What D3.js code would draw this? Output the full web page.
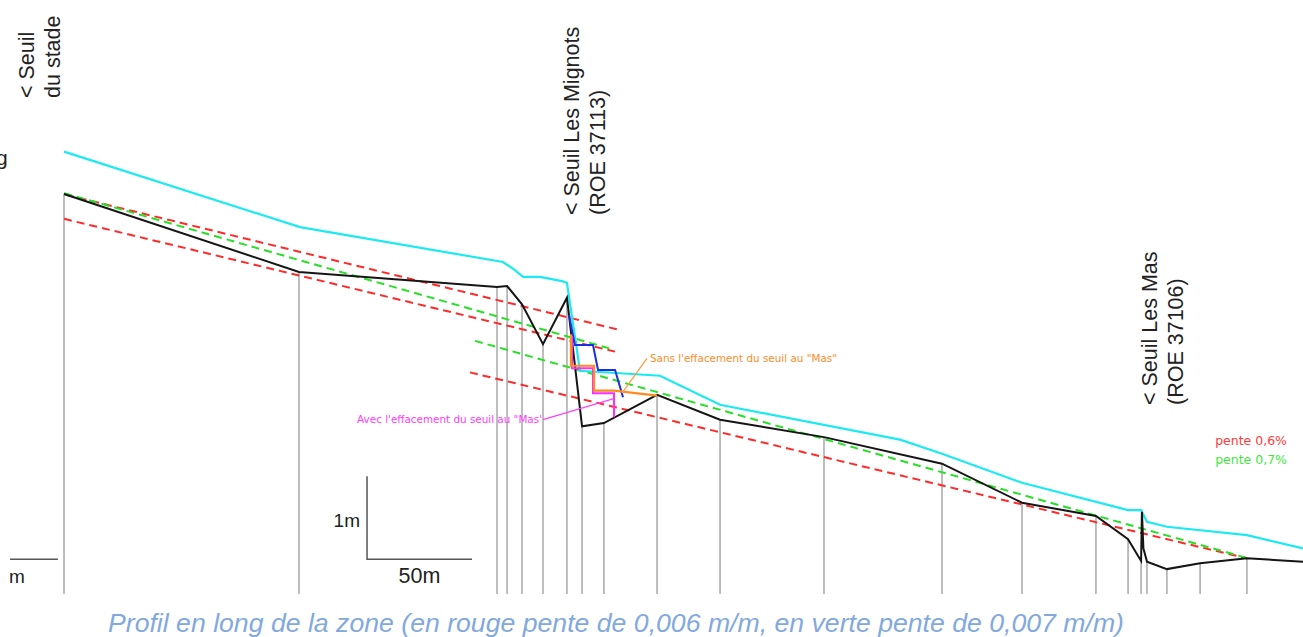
<!DOCTYPE html>
<html>
<head>
<meta charset="utf-8">
<script src="https://cdn.jsdelivr.net/npm/d3@7"></script>
<style>
  html, body { margin: 0; padding: 0; background: #fff; overflow: hidden; }
  svg { display: block; }
</style>
</head>
<body>
<script>
// distance along the river (m), elevation (m, relative)
const profile = [
  [0, 4.82], [111.9, 3.88], [206.2, 3.70], [211.0, 3.71], [218.1, 3.49], [228.1, 3.01],
  [239.5, 3.57], [246.7, 2.02], [257.1, 2.06], [282.4, 2.40], [312.4, 2.10], [361.9, 1.89],
  [418.1, 1.57], [456.2, 1.10], [491.4, 0.94], [506.7, 0.66], [511.4, 0.46], [512.9, 0.40],
  [513.3, 0.99], [514.0, 0.55], [515.7, 0.39], [525.2, 0.30], [541.0, 0.37], [563.3, 0.43],
  [590.0, 0.39]
];
const stations = [0, 111.9, 206.2, 211.0, 218.1, 228.1, 239.5, 246.7, 257.1, 282.4, 312.4,
  361.9, 418.1, 456.2, 491.4, 506.7, 512.9, 515.7, 525.2, 541.0, 563.3];
const water = [
  [0, 5.33], [112.4, 4.42], [209.0, 4.00], [213.8, 3.92], [218.6, 3.82], [226.7, 3.82],
  [237.1, 3.77], [239.5, 3.75], [245.7, 2.69], [283.8, 2.63], [312.4, 2.28], [398.1, 1.86],
  [418.1, 1.69], [456.2, 1.34], [506.7, 1.01], [512.9, 1.01], [515.7, 0.87], [525.2, 0.81],
  [563.3, 0.71], [590.0, 0.55]
];
// slope lines: [d1, z1, d2, z2]
const red_lines = [
  [0.95, 4.81, 264.8, 3.18],
  [0, 4.52, 262.4, 2.92],
  [193.3, 2.67, 563.3, 0.43]
];
const green_lines = [
  [0, 4.83, 261.0, 2.95],
  [195.7, 3.05, 563.8, 0.43]
];
const blue_steps = [[240.5, 3.36], [243.3, 3.00], [251.9, 3.00], [254.3, 2.70], [262.4, 2.70], [266.2, 2.37]];
const orange_steps = [[241.4, 3.13], [241.4, 2.75], [252.4, 2.75], [252.4, 2.45], [261.9, 2.45], [282.4, 2.39]];
const magenta_steps = [[241.9, 3.11], [241.9, 2.72], [251.9, 2.72], [251.9, 2.42], [261.9, 2.42], [261.9, 2.13]];
const magenta_leader = [[228.1, 2.10], [261.4, 2.35]];
const orange_leader = [[265.7, 2.42], [277.6, 2.84]];
const sills = [
  {lines: ['< Seuil', 'du stade'], d: -14.5},
  {lines: ['< Seuil Les Mignots', '(ROE 37113)'], d: 245.2},
  {lines: ['< Seuil Les Mas', '(ROE 37106)'], d: 520.5}
];
const sill_bottoms = [98, 215, 405];
const legend = [{text: 'pente 0,6%', color: '#ff3b3b'}, {text: 'pente 0,7%', color: '#3ee83e'}];
const caption = 'Profil en long de la zone (en rouge pente de 0,006 m/m, en verte pente de 0,007 m/m)';

const W = 1303, H = 637;
const x = d3.scaleLinear().domain([0, 590]).range([64, 1303]);
const y = d3.scaleLinear().domain([0, 7]).range([594, 13]);

const svg = d3.select('body').append('svg')
  .attr('width', W).attr('height', H)
  .style('font-family', 'Liberation Sans, Arial, sans-serif');

const line = d3.line().x(d => x(d[0])).y(d => y(d[1]));

// station verticals
const byD = new Map(profile.map(p => [p[0], p[1]]));
svg.append('g').selectAll('line').data(stations).enter().append('line')
  .attr('x1', d => x(d)).attr('x2', d => x(d))
  .attr('y1', d => y(byD.get(d))).attr('y2', y(0))
  .attr('stroke', '#a8a8a8').attr('stroke-width', 1.5);

// slope lines
function slopes(data, color) {
  svg.append('g').selectAll('line').data(data).enter().append('line')
    .attr('x1', d => x(d[0])).attr('y1', d => y(d[1]))
    .attr('x2', d => x(d[2])).attr('y2', d => y(d[3]))
    .attr('stroke', color).attr('stroke-width', 2)
    .attr('stroke-dasharray', '8,5');
}
slopes(red_lines, '#ff2a2a');
slopes(green_lines, '#26e026');

svg.append('path').datum(water).attr('d', line)
  .attr('fill', 'none').attr('stroke', '#1ceaf2').attr('stroke-width', 2.2);
svg.append('path').datum(profile).attr('d', line)
  .attr('fill', 'none').attr('stroke', '#151515').attr('stroke-width', 2);

svg.append('path').datum(blue_steps).attr('d', line)
  .attr('fill', 'none').attr('stroke', '#1d2fe0').attr('stroke-width', 2);
svg.append('path').datum(magenta_steps).attr('d', line)
  .attr('fill', 'none').attr('stroke', '#ff2cff').attr('stroke-width', 2);
svg.append('path').datum(orange_steps).attr('d', line)
  .attr('fill', 'none').attr('stroke', '#ff8a1e').attr('stroke-width', 2.2);
svg.append('path').datum(magenta_leader).attr('d', line)
  .attr('fill', 'none').attr('stroke', '#ff40ff').attr('stroke-width', 1.2);
svg.append('path').datum(orange_leader).attr('d', line)
  .attr('fill', 'none').attr('stroke', '#ff9a3a').attr('stroke-width', 1.2);

svg.append('text').attr('x', x(228.1) - 1).attr('y', y(2.10) + 3.5)
  .attr('text-anchor', 'end').attr('font-family', 'DejaVu Sans').attr('font-size', 10.4)
  .attr('fill', '#ff3cff').text('Avec l\'effacement du seuil au "Mas\'');
svg.append('text').attr('x', x(277.6) + 3).attr('y', y(2.84) + 3.5)
  .attr('font-family', 'DejaVu Sans').attr('font-size', 10.4)
  .attr('fill', '#ff8c2a').text('Sans l\'effacement du seuil au "Mas"');

// sill labels, rotated
sills.forEach((s, i) => {
  s.lines.forEach((t, j) => {
    const bx = x(s.d) + j * 26;
    svg.append('text')
      .attr('transform', `translate(${bx},${sill_bottoms[i]}) rotate(-90)`)
      .attr('font-size', 21.5).attr('fill', '#222').text(t);
  });
});

// cut-off glyph at the left edge (cut in the reference as well)
svg.append('text').attr('x', -4).attr('y', 165).attr('font-size', 21).attr('fill', '#222').text('g');

// legend
legend.forEach((l, i) => {
  svg.append('text').attr('x', 1287).attr('y', 445 + i * 19)
    .attr('text-anchor', 'end').attr('font-family', 'DejaVu Sans').attr('font-size', 12.5)
    .attr('fill', l.color).text(l.text);
});

// scale bars
const sb = svg.append('g').attr('stroke', '#555').attr('stroke-width', 1.5).attr('fill', 'none');
sb.append('path').datum([[144.3, 1.42], [144.3, 0.42], [194.3, 0.42]]).attr('d', line);
sb.append('path').datum([[-25.7, 0.42], [-2.9, 0.42]]).attr('d', line);
svg.append('text').attr('x', x(144.3) - 7).attr('y', 527).attr('text-anchor', 'end')
  .attr('font-size', 19).attr('fill', '#222').text('1m');
svg.append('text').attr('x', x(169.3)).attr('y', 583).attr('text-anchor', 'middle')
  .attr('font-size', 21.5).attr('fill', '#222').text('50m');
svg.append('text').attr('x', 9).attr('y', 583)
  .attr('font-size', 19).attr('fill', '#222').text('m');

// caption
svg.append('text').attr('x', 616).attr('y', 632).attr('text-anchor', 'middle')
  .attr('font-size', 25).attr('font-style', 'italic').attr('fill', '#82a9dd')
  .attr('textLength', 1016).attr('lengthAdjust', 'spacingAndGlyphs').text(caption);
</script>
</body>
</html>
